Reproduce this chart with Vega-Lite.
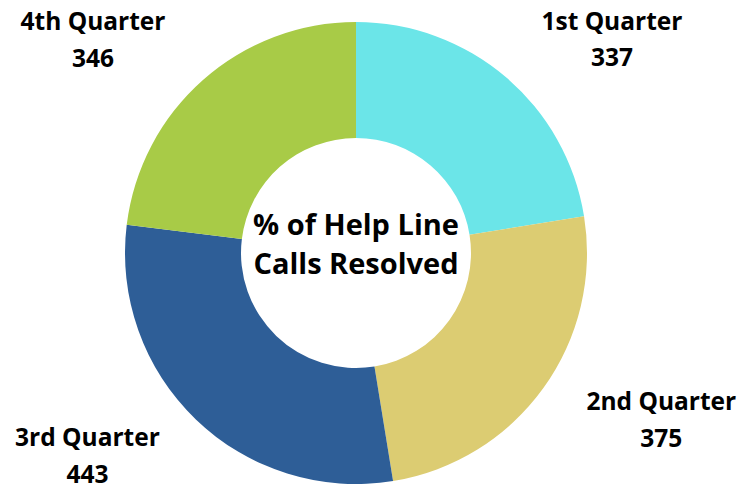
{
  "$schema": "https://vega.github.io/schema/vega-lite/v6.json",
  "width": 712,
  "height": 472,
  "autosize": {"type": "none"},
  "padding": {"left": 0, "top": 17, "right": 30, "bottom": 0},
  "background": "white",
  "view": {"stroke": null},
  "datasets": {
    "calls": [
      {"quarter": "1st Quarter", "calls": 337, "order": 1},
      {"quarter": "2nd Quarter", "calls": 375, "order": 2},
      {"quarter": "3rd Quarter", "calls": 443, "order": 3},
      {"quarter": "4th Quarter", "calls": 346, "order": 4}
    ],
    "center": [
      {"t": "% of Help Line\nCalls Resolved"}
    ]
  },
  "data": {"name": "calls"},
  "layer": [
    {
      "mark": {"type": "arc", "innerRadius": 115, "outerRadius": 231},
      "encoding": {
        "theta": {"field": "calls", "type": "quantitative", "stack": true},
        "order": {"field": "order", "type": "quantitative"},
        "color": {
          "field": "quarter",
          "type": "nominal",
          "scale": {
            "domain": ["1st Quarter", "2nd Quarter", "3rd Quarter", "4th Quarter"],
            "range": ["#6BE5E8", "#DCCC72", "#2E5E97", "#A8CB47"]
          },
          "legend": null
        }
      }
    },
    {
      "mark": {"type": "text", "radius": 335, "thetaOffset": 0.164, "dy": -14, "font": "Open Sans", "fontWeight": "bold", "fontSize": 24.5, "color": "black", "baseline": "middle", "align": "center"},
      "encoding": {
        "theta": {"field": "calls", "type": "quantitative", "stack": true},
        "order": {"field": "order", "type": "quantitative"},
        "text": {"condition": {"test": "datum.order == 1 || datum.order == 3", "field": "quarter", "type": "nominal"}, "value": ""}
      }
    },
    {
      "mark": {"type": "text", "radius": 335, "thetaOffset": 0.164, "dy": 22.5, "font": "Open Sans", "fontWeight": "bold", "fontSize": 24.5, "color": "black", "baseline": "middle", "align": "center"},
      "encoding": {
        "theta": {"field": "calls", "type": "quantitative", "stack": true},
        "order": {"field": "order", "type": "quantitative"},
        "text": {"condition": {"test": "datum.order == 1 || datum.order == 3", "field": "calls", "type": "nominal"}, "value": ""}
      }
    },
    {
      "mark": {"type": "text", "radius": 344, "thetaOffset": -0.146, "dy": -8, "font": "Open Sans", "fontWeight": "bold", "fontSize": 24.5, "color": "black", "baseline": "middle", "align": "center"},
      "encoding": {
        "theta": {"field": "calls", "type": "quantitative", "stack": true},
        "order": {"field": "order", "type": "quantitative"},
        "text": {"condition": {"test": "datum.order == 2 || datum.order == 4", "field": "quarter", "type": "nominal"}, "value": ""}
      }
    },
    {
      "mark": {"type": "text", "radius": 344, "thetaOffset": -0.146, "dy": 28.5, "font": "Open Sans", "fontWeight": "bold", "fontSize": 24.5, "color": "black", "baseline": "middle", "align": "center"},
      "encoding": {
        "theta": {"field": "calls", "type": "quantitative", "stack": true},
        "order": {"field": "order", "type": "quantitative"},
        "text": {"condition": {"test": "datum.order == 2 || datum.order == 4", "field": "calls", "type": "nominal"}, "value": ""}
      }
    },
    {
      "data": {"name": "center"},
      "mark": {"type": "text", "lineBreak": "\n", "lineHeight": 39, "dy": -27, "font": "Open Sans", "fontWeight": "bold", "fontSize": 29, "color": "black", "baseline": "middle", "align": "center"},
      "encoding": {
        "text": {"field": "t", "type": "nominal"}
      }
    }
  ]
}
